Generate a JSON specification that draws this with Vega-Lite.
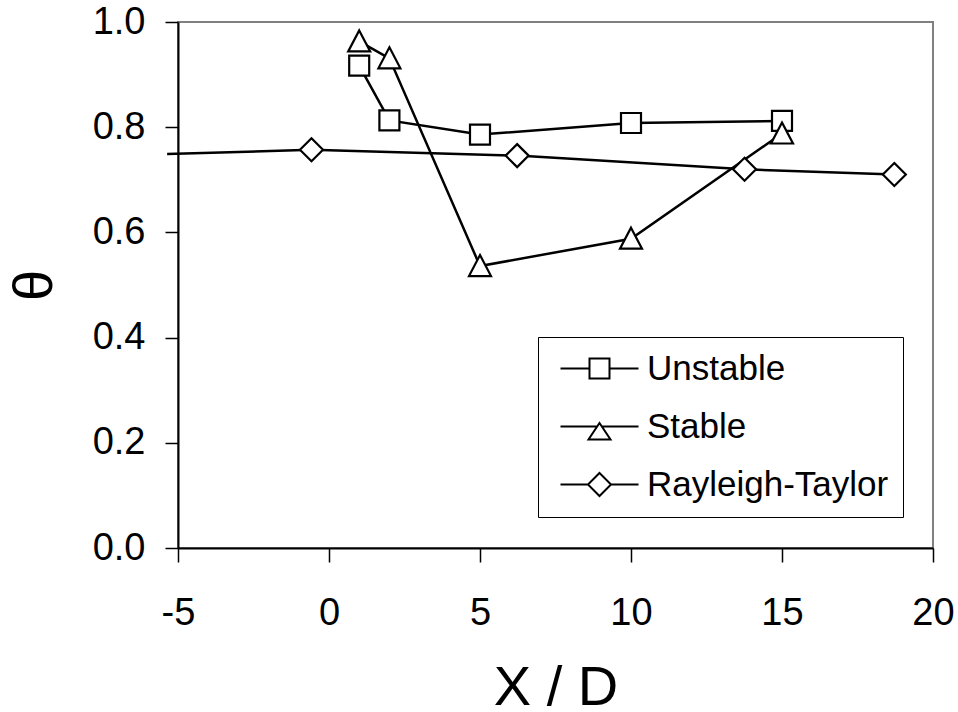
{
  "$schema": "https://vega.github.io/schema/vega-lite/v6.json",
  "width": 755,
  "height": 526,
  "autosize": {"type": "none"},
  "padding": {"left": 178, "top": 22, "right": 25, "bottom": 164},
  "background": "white",
  "config": {
    "view": {"stroke": "#808080", "strokeWidth": 2},
    "font": "Liberation Sans"
  },
  "data": {
    "values": [
      {"series": "Unstable", "x": 1, "y": 0.917},
      {"series": "Unstable", "x": 2, "y": 0.813},
      {"series": "Unstable", "x": 5, "y": 0.786},
      {"series": "Unstable", "x": 10, "y": 0.808},
      {"series": "Unstable", "x": 15, "y": 0.812},
      {"series": "Stable", "x": 1, "y": 0.963},
      {"series": "Stable", "x": 2, "y": 0.931},
      {"series": "Stable", "x": 5, "y": 0.536},
      {"series": "Stable", "x": 10, "y": 0.588},
      {"series": "Stable", "x": 15, "y": 0.788},
      {"series": "Rayleigh-Taylor", "x": -5.36, "y": 0.749},
      {"series": "Rayleigh-Taylor", "x": -0.58, "y": 0.757},
      {"series": "Rayleigh-Taylor", "x": 6.23, "y": 0.746},
      {"series": "Rayleigh-Taylor", "x": 13.76, "y": 0.72},
      {"series": "Rayleigh-Taylor", "x": 18.72, "y": 0.71}
    ]
  },
  "encoding": {
    "x": {
      "field": "x",
      "type": "quantitative",
      "scale": {"domain": [-5, 20], "nice": false, "zero": false},
      "axis": {
        "values": [-5, 0, 5, 10, 15, 20],
        "labelExpr": "toString(datum.value)",
        "title": "X / D",
        "grid": false,
        "domainColor": "black",
        "domainWidth": 2,
        "tickColor": "black",
        "tickWidth": 1.5,
        "tickSize": 14,
        "labelFontSize": 38,
        "labelPadding": 32,
        "labelColor": "black",
        "labelFlush": false,
        "labelOverlap": false,
        "labelFont": "Liberation Sans",
        "titleFont": "Liberation Sans",
        "titleFontSize": 56,
        "titleFontWeight": "normal",
        "titleColor": "black",
        "titleBaseline": "alphabetic",
        "titleY": 156
      }
    },
    "y": {
      "field": "y",
      "type": "quantitative",
      "scale": {"domain": [0, 1], "nice": false},
      "axis": {
        "values": [0, 0.2, 0.4, 0.6, 0.8, 1],
        "format": ".1f",
        "title": "θ",
        "grid": false,
        "domainColor": "black",
        "domainWidth": 2,
        "tickColor": "black",
        "tickWidth": 1.5,
        "tickSize": 13,
        "labelFontSize": 38,
        "labelPadding": 20,
        "labelColor": "black",
        "labelFlush": false,
        "labelOverlap": false,
        "labelFont": "Liberation Sans",
        "titleFont": "Liberation Sans",
        "titleFontSize": 56,
        "titleFontWeight": "normal",
        "titleColor": "black",
        "titleAngle": 270,
        "titleAlign": "center",
        "titleBaseline": "alphabetic",
        "titleX": -127,
        "titleY": 263
      }
    }
  },
  "layer": [
    {
      "mark": {"type": "line", "color": "black", "strokeWidth": 2.5},
      "encoding": {"detail": {"field": "series"}}
    },
    {
      "transform": [{"filter": "datum.x >= -5"}],
      "mark": {
        "type": "point",
        "filled": true,
        "fill": "white",
        "stroke": "black",
        "strokeWidth": 2.2,
        "size": 400,
        "opacity": 1
      },
      "encoding": {
        "shape": {
          "field": "series",
          "type": "nominal",
          "scale": {
            "domain": ["Unstable", "Stable", "Rayleigh-Taylor"],
            "range": ["M-1,-1L1,-1L1,1L-1,1Z", "M0,-1.1L1.1,1L-1.1,1Z", "M0,-1.15L1.15,0L0,1.15L-1.15,0Z"]
          },
          "legend": null
        }
      }
    },
    {
      "transform": [{"filter": "datum.x > 1000"}],
      "mark": {"type": "point", "filled": false, "color": "black", "size": 400},
      "encoding": {
        "shape": {
          "field": "series",
          "type": "nominal",
          "scale": {
            "domain": ["Unstable", "Stable", "Rayleigh-Taylor"],
            "range": [
              "M-0.9,0L2,0M4,0L6.9,0M2,-1L4,-1L4,1L2,1Z",
              "M-0.9,0L2.77,0M3.23,0L6.9,0M3,-0.35L4.1,1.3L1.9,1.3Z",
              "M-0.9,0L1.85,0M4.15,0L6.9,0M3,-1.15L4.15,0L3,1.15L1.85,0Z"
            ]
          },
          "legend": {
            "orient": "none",
            "legendX": 360,
            "legendY": 315,
            "title": null,
            "strokeColor": "black",
            "fillColor": "white",
            "padding": 14,
            "labelFontSize": 35,
            "labelFont": "Liberation Sans",
            "labelColor": "black",
            "labelLimit": 500,
            "labelOffset": 60,
            "rowPadding": 22,
            "symbolSize": 400,
            "symbolStrokeColor": "black",
            "symbolFillColor": "white",
            "symbolStrokeWidth": 2,
            "symbolOpacity": 1
          }
        }
      }
    }
  ],
  "resolve": {"scale": {"shape": "independent"}}
}
